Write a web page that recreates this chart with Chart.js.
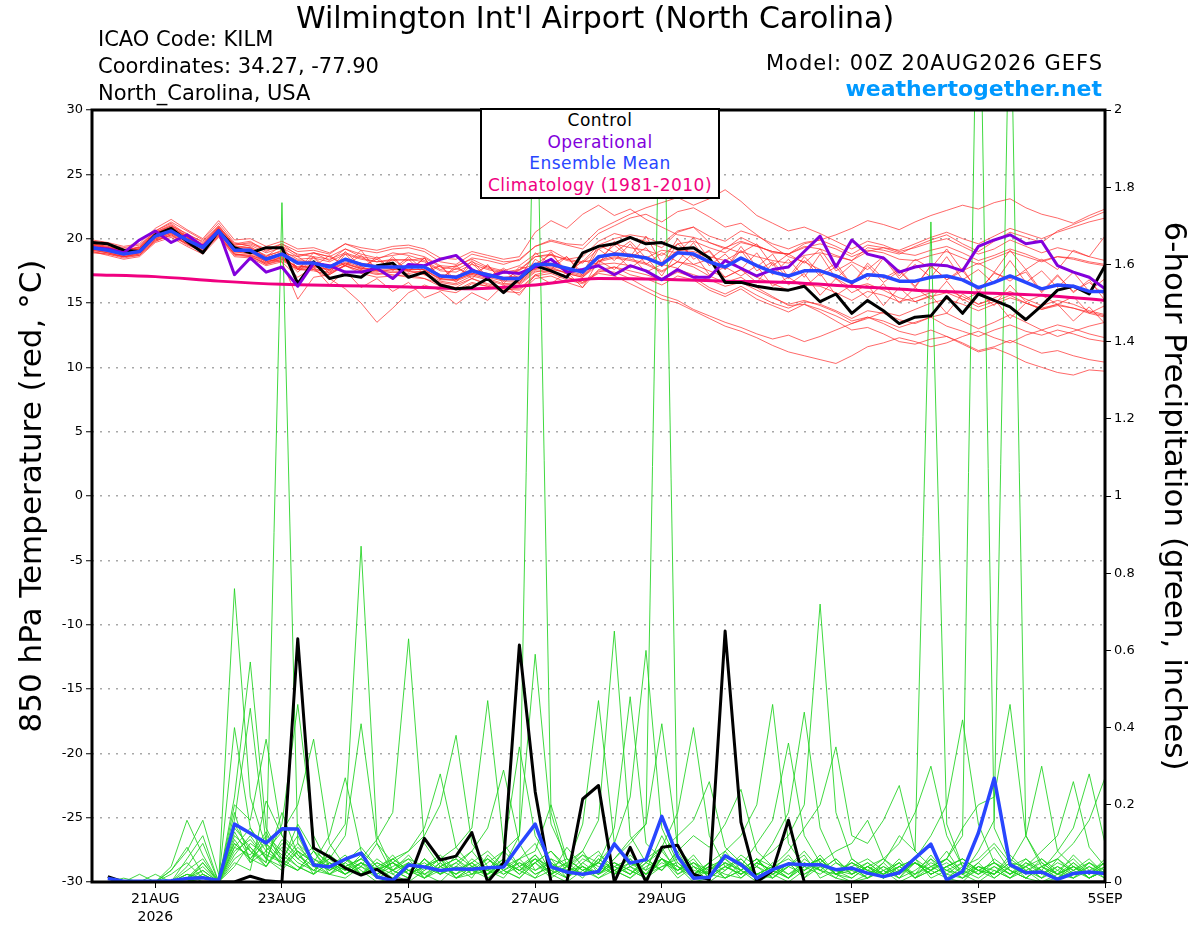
<!DOCTYPE html>
<html>
<head>
<meta charset="utf-8">
<title>Wilmington Int'l Airport - GEFS 850 hPa temperature and precipitation</title>
<script src="https://cdn.jsdelivr.net/npm/chart.js@4.4.1/dist/chart.umd.min.js"></script>
<style>
  body { margin: 0; background: #fff; }
  #wrap { position: relative; width: 1200px; height: 927px; font-family: 'DejaVu Sans', sans-serif; color: #000; }
  #wrap canvas { position: absolute; left: 0; top: 0; }
  .txt { position: absolute; line-height: 1; white-space: nowrap; }
  #legendBox {
    position: absolute; left: 480px; top: 108px; width: 236px; height: 87px;
    border: 2px solid #000; background: #fff; text-align: center;
    font-size: 17px; line-height: 21.7px; letter-spacing: 0.5px;
  }
</style>
</head>
<body>
<div id="wrap">
  <canvas id="meteogram" width="1200" height="927"></canvas>
  <div class="txt" style="left:0;width:1190px;text-align:center;top:3px;font-size:30px">Wilmington Int'l Airport (North Carolina)</div>
  <div class="txt" style="left:98px;top:29px;font-size:21px">ICAO Code: KILM</div>
  <div class="txt" style="left:98px;top:56px;font-size:21px">Coordinates: 34.27, -77.90</div>
  <div class="txt" style="left:98px;top:83px;font-size:21px">North_Carolina, USA</div>
  <div class="txt" style="right:97px;top:53px;font-size:21px;letter-spacing:1px">Model: 00Z 20AUG2026 GEFS</div>
  <div class="txt" style="right:98px;top:78px;font-size:22px;font-weight:bold;color:#0099ff">weathertogether.net</div>
  <div id="legendBox">
    <div style="color:#000">Control</div>
    <div style="color:#8200dc">Operational</div>
    <div style="color:#2846ff">Ensemble Mean</div>
    <div style="color:#f00080">Climatology (1981-2010)</div>
  </div>
</div>
<script>
// x axis: forecast hour from 00Z 20AUG2026
const tickHours = [24, 72, 120, 168, 216, 288, 336, 384];
const tickLabels = [['21AUG', '2026'], '23AUG', '25AUG', '27AUG', '29AUG', '1SEP', '3SEP', '5SEP'];
const hours = Array.from({length: 65}, (_, i) => i * 6);
const precipHours = hours.slice(1);

// 1981-2010 climatology, daily
const climHours = [0, 24, 48, 72, 96, 120, 144, 168, 192, 216, 240, 264, 288, 312, 336, 360, 384];
const climatology = [17.2, 17.05, 16.7, 16.45, 16.35, 16.25, 16.1, 16.4, 16.9, 16.85, 16.7, 16.6, 16.3, 16.0, 15.8, 15.6, 15.2];

// 850 hPa temperature (C), 6-hourly
const controlTemp = [19.7, 19.6, 19.1, 19.0, 20.3, 20.8, 19.8, 18.9, 20.6, 19.3,
  18.9, 19.3, 19.3, 16.5, 18.2, 16.9, 17.2, 17.0, 17.9, 18.1,
  17.0, 17.4, 16.4, 16.1, 16.2, 16.9, 15.8, 16.9, 17.9, 17.5,
  17.0, 18.9, 19.4, 19.6, 20.1, 19.6, 19.7, 19.2, 19.3, 18.5,
  16.6, 16.6, 16.3, 16.1, 16.0, 16.3, 15.1, 15.7, 14.2, 15.2,
  14.4, 13.4, 13.9, 14.0, 15.5, 14.2, 15.7, 15.2, 14.7, 13.7,
  14.8, 16.0, 16.3, 15.7, 17.9];
const operationalTemp = [19.3, 19.2, 18.9, 19.9, 20.6, 19.7, 20.3, 19.4, 20.6, 17.2,
  18.5, 17.4, 17.8, 16.3, 18.1, 17.9, 17.4, 17.4, 17.7, 16.9,
  18.0, 17.9, 18.4, 18.7, 17.6, 17.0, 17.4, 17.3, 17.8, 18.4,
  17.4, 17.6, 17.9, 17.2, 17.9, 17.5, 16.8, 17.6, 17.0, 17.0,
  18.3, 17.7, 17.1, 17.6, 17.8, 19.0, 20.2, 17.8, 19.9, 18.8,
  18.5, 17.4, 17.8, 18.0, 17.9, 17.5, 19.4, 19.9, 20.3, 19.6,
  19.8, 17.9, 17.4, 17.0, 16.1];
const meanTemp = [19.3, 19.1, 18.8, 19.0, 20.2, 20.6, 19.9, 19.3, 20.6, 19.1,
  19.1, 18.4, 18.8, 18.1, 18.1, 17.8, 18.4, 18.0, 17.8, 17.8,
  17.8, 17.8, 17.1, 17.0, 17.5, 17.2, 16.9, 16.9, 18.0, 18.0,
  17.7, 17.4, 18.6, 18.8, 18.7, 18.5, 18.0, 18.9, 18.8, 18.2,
  17.8, 18.5, 17.9, 17.4, 17.1, 17.5, 17.5, 17.1, 16.6, 17.2,
  17.1, 16.7, 16.7, 17.0, 17.1, 16.8, 16.2, 16.6, 17.1, 16.6,
  16.1, 16.4, 16.3, 15.9, 15.9];

// 6-hour precipitation (inches), from 06Z 20AUG
const controlPrecip = [.014, 0, 0, 0, 0, 0, 0, 0,
  0, .015, .003, 0, .63, .088, .065, .036,
  .018, .033, .005, .005, .113, .057, .067, .128,
  0, .05, .614, .234, 0, 0, .215, .25,
  0, .09, 0, .09, .095, .02, .006, .65,
  .155, 0, .03, .16, 0, 0, 0, 0,
  0, 0, 0, 0, 0, 0, 0, 0,
  0, 0, 0, 0, 0, 0, 0, 0];
const meanPrecip = [.009, .002, .002, .002, .003, .009, .011, .004,
  .150, .126, .101, .138, .137, .044, .039, .059,
  .075, .013, .004, .044, .039, .030, .034, .033,
  .037, .039, .096, .150, .039, .026, .020, .027,
  .099, .049, .058, .170, .066, .010, .012, .068,
  .045, .010, .032, .047, .045, .045, .032, .036,
  .023, .014, .024, .062, .098, .005, .027, .127,
  .269, .045, .024, .026, .007, .022, .026, .022];

// ensemble members, temperature
const memberTemp = [
  [19.5,19.3,19.0,19.4,20.6,21.2,20.3,19.8,21.0,19.6,19.8,19.0,19.6,18.7,18.9,18.3,19.2,18.6,18.4,18.9,18.7,18.3,17.6,17.9,18.4,17.8,17.5,17.9,18.8,19.1,18.4,18.6,19.8,20.4,20.1,19.8,19.3,20.5,20.9,19.7,19.2,20.1,19.5,18.9,18.8,19.4,19.2,18.7,18.3,19.3,19.1,18.8,19.4,19.9,20.3,19.6,19.0,19.8,20.5,20.1,19.7,20.6,21.1,21.6,22.1],
  [19.0,18.8,18.5,18.7,19.8,20.3,19.5,19.0,20.2,18.8,18.6,18.0,18.3,17.6,17.5,17.2,17.9,17.3,17.0,17.1,17.2,16.9,16.5,16.2,16.9,16.4,16.1,16.0,17.1,17.3,16.8,16.5,17.4,17.8,17.2,16.9,16.4,17.1,16.8,16.0,15.5,16.1,15.3,14.8,14.3,14.9,14.5,14.0,13.4,13.9,13.6,13.1,13.5,13.9,13.2,12.8,12.4,12.9,13.3,12.8,12.5,12.9,12.6,12.2,12.0],
  [19.6,19.4,19.0,19.2,20.4,20.9,20.2,19.5,20.9,19.4,19.3,18.7,19.0,18.0,17.6,16.9,16.1,15.0,13.5,14.6,15.8,16.4,16.0,15.8,16.5,16.3,16.0,16.4,17.4,17.7,17.3,17.0,18.2,18.5,18.3,18.0,17.4,18.2,18.0,17.5,17.0,17.6,17.0,16.5,16.0,16.4,16.3,15.8,15.2,15.9,15.6,15.1,15.4,15.8,16.0,15.5,14.9,15.4,15.9,15.3,14.8,15.2,14.9,14.4,14.1],
  [19.2,19.0,18.7,19.1,20.3,20.8,20.0,19.4,20.7,19.3,19.5,18.9,19.3,18.6,18.9,18.6,19.2,18.8,18.5,18.7,18.9,18.6,17.9,17.8,18.5,18.3,18.0,18.4,19.4,19.9,19.6,19.5,20.7,21.3,21.9,22.4,22.8,23.2,22.6,23.1,23.8,22.9,21.8,21.2,20.6,20.9,20.4,19.8,19.2,19.8,19.5,19.0,19.3,19.7,20.0,19.4,18.8,19.2,19.9,19.4,18.9,19.3,19.0,18.6,18.3],
  [19.4,19.1,18.9,19.0,20.1,20.5,19.7,19.1,20.4,18.9,18.9,18.2,18.5,17.8,17.9,17.5,18.1,17.6,17.4,17.6,17.5,17.4,16.7,16.5,17.1,16.8,16.4,16.5,17.5,17.4,17.0,16.6,17.3,17.1,16.5,15.9,15.3,15.0,14.4,13.8,13.2,12.8,12.3,11.7,11.2,10.9,10.6,10.3,10.9,11.6,11.9,12.3,12.0,11.6,11.9,12.4,12.8,12.3,11.9,12.5,12.9,12.4,12.8,13.2,13.5],
  [19.1,18.9,18.6,18.9,20.0,20.4,19.8,19.2,20.5,19.0,18.8,18.1,18.6,17.7,17.8,17.6,18.2,17.8,17.5,17.4,17.3,17.5,16.9,16.7,17.2,16.9,16.5,16.6,17.6,17.8,17.3,17.0,18.0,18.1,17.9,17.5,16.9,17.6,17.2,16.8,16.3,16.6,16.0,15.4,14.9,15.2,14.8,14.3,13.6,13.9,13.4,12.8,12.5,12.9,12.4,11.8,11.2,11.5,11.0,10.4,10.0,9.6,9.4,9.8,9.7],
  [19.7,19.5,19.2,19.3,20.5,21.0,20.4,19.7,20.9,19.5,19.6,19.1,19.4,18.8,18.6,18.4,18.9,18.5,18.2,18.4,18.3,18.5,17.8,17.6,18.2,17.7,17.4,17.6,18.6,18.8,18.3,18.1,19.2,19.6,19.3,19.1,18.7,19.6,19.8,19.3,18.9,19.7,19.4,19.0,18.8,19.6,19.9,20.3,20.8,21.4,21.1,20.7,21.3,21.8,22.2,22.6,22.3,22.8,23.1,22.4,21.9,21.6,21.2,21.8,22.3],
  [18.9,18.8,18.6,18.8,19.9,20.2,19.6,19.0,20.3,18.8,18.7,18.3,18.6,17.4,18.5,17.3,18.8,17.6,18.6,17.5,18.4,17.2,17.9,16.6,18.1,16.9,17.6,16.5,18.4,17.6,18.6,17.1,19.2,18.3,19.6,18.0,18.9,18.2,19.7,17.9,18.8,17.6,18.9,17.2,18.4,17.0,18.8,16.9,18.0,16.8,18.5,16.9,18.0,17.0,18.6,16.8,17.6,16.5,18.3,16.6,17.5,16.2,17.4,15.9,16.9],
  [19.8,19.6,19.3,19.5,20.6,21.3,20.6,19.9,21.2,19.7,19.4,18.6,19.5,17.6,18.9,18.6,17.9,19.1,17.5,18.6,17.4,18.5,16.8,17.9,16.9,18.0,16.5,17.8,17.6,19.0,17.2,18.3,18.0,19.8,18.6,20.2,18.1,20.0,18.4,19.1,17.6,19.4,17.8,18.8,17.0,18.6,17.3,18.1,16.4,17.9,16.6,17.5,16.2,17.9,16.8,17.7,15.8,17.4,16.7,17.6,15.9,17.2,15.8,16.8,15.2],
  [19.3,19.0,18.7,18.9,20.0,20.5,19.8,19.1,20.4,19.0,19.0,18.2,18.5,17.7,17.7,17.3,17.9,17.5,17.3,17.2,17.0,16.9,16.3,16.0,16.6,16.3,15.9,15.8,16.9,17.1,16.6,16.2,17.6,17.8,17.5,17.2,16.8,17.4,17.0,16.2,15.7,16.3,15.6,15.0,14.6,15.1,14.9,14.4,13.8,14.4,14.2,13.7,13.4,13.9,14.2,13.6,13.0,13.5,14.1,13.5,12.9,13.3,13.0,12.6,12.3],
  [19.5,19.2,18.9,19.2,20.4,20.8,20.1,19.5,20.8,19.2,19.2,18.6,19.1,18.4,18.5,18.2,18.8,18.4,18.2,18.3,18.4,18.2,17.5,17.4,18.0,17.6,17.3,17.5,18.6,18.7,18.4,18.2,19.5,20.0,20.3,20.1,19.6,20.6,20.9,20.2,19.8,20.6,20.2,19.6,19.2,19.7,19.9,19.4,18.8,19.5,19.3,18.9,18.7,19.1,19.4,18.9,18.3,18.7,19.2,18.8,18.3,18.6,18.4,18.1,17.9],
  [19.0,18.7,18.4,18.6,19.7,20.1,19.4,18.8,20.1,18.6,18.5,17.9,18.2,17.0,17.8,16.4,17.5,16.2,16.9,15.9,16.6,15.4,15.9,14.9,15.8,15.2,16.4,15.6,17.2,16.5,17.4,16.2,18.3,17.6,18.7,17.4,18.0,17.7,18.9,17.2,17.8,17.1,17.9,16.3,17.0,16.2,17.3,15.6,16.4,15.4,16.5,15.0,16.2,15.3,16.7,15.2,15.8,14.8,16.4,15.1,15.6,14.9,15.5,14.2,14.8],
  [19.6,19.3,19.1,19.3,20.5,21.1,20.2,19.6,21.0,19.5,19.7,19.2,19.6,19.0,19.1,18.8,19.6,19.1,18.9,19.2,19.3,19.0,18.2,18.0,18.8,18.5,18.2,18.3,19.4,19.8,19.5,19.2,20.4,21.0,21.6,21.9,21.3,22.1,22.4,21.7,20.9,21.2,20.3,19.4,18.6,18.2,17.6,16.9,16.2,16.5,16.0,15.4,15.1,15.5,15.8,15.3,14.7,15.1,15.6,15.0,14.5,14.9,14.6,14.2,13.9],
  [19.2,18.9,18.6,18.8,19.9,20.4,19.6,19.0,20.3,18.8,18.7,18.0,18.4,17.6,17.6,17.4,17.9,17.5,17.2,17.4,17.5,17.2,16.6,16.4,16.9,16.5,16.2,16.1,17.2,17.5,17.0,16.6,17.5,17.4,16.9,16.2,15.6,15.2,14.5,14.0,13.5,13.1,12.6,12.2,12.5,12.0,12.4,12.9,13.4,13.8,14.3,14.0,14.5,15.0,15.3,14.9,14.4,14.9,15.4,15.0,14.5,14.8,14.6,14.3,14.0],
  [19.4,19.2,18.9,19.1,20.2,20.7,20.0,19.4,20.7,19.2,19.0,18.5,18.9,18.6,17.8,18.7,17.9,18.7,17.6,18.4,17.5,18.5,16.9,17.7,17.2,17.9,16.7,17.6,18.0,18.8,17.5,18.2,18.4,19.5,18.5,19.3,17.8,19.6,18.6,19.0,17.6,19.1,17.5,18.2,16.9,18.3,17.1,17.8,16.4,18.1,16.9,17.6,16.3,17.9,16.8,17.5,16.0,17.3,16.9,17.4,15.8,17.1,15.9,16.6,15.6],
  [19.3,19.1,18.8,19.0,20.1,20.6,19.9,19.3,20.6,19.1,19.2,18.5,18.9,18.3,18.2,17.9,18.4,18.1,17.9,17.9,17.8,17.9,17.2,17.1,17.6,17.3,17.0,17.1,18.1,18.1,17.7,17.5,18.6,18.9,18.8,18.6,18.1,19.1,19.0,18.6,18.3,19.0,18.6,18.3,18.1,18.7,18.9,18.6,18.3,19.0,19.3,19.1,19.6,20.1,20.5,20.0,19.6,20.2,20.8,20.4,20.0,20.5,20.9,21.3,21.6],
  [19.6,19.4,19.1,19.3,20.4,21.0,20.1,19.5,20.8,19.3,19.3,18.4,18.2,15.3,17.0,17.2,18.0,17.7,17.6,17.7,17.6,17.6,16.8,16.8,17.3,17.0,16.7,16.7,17.7,17.6,17.4,17.1,18.2,18.9,17.7,18.6,17.1,19.0,18.0,18.4,17.0,17.6,16.6,18.1,16.4,17.3,15.6,16.9,15.8,16.4,14.8,16.2,15.1,15.6,14.2,15.7,14.9,15.3,13.8,15.0,14.6,14.9,13.6,14.7,13.4],
  [19.9,19.7,19.4,19.6,20.8,21.5,20.7,20.0,21.4,19.9,20.0,19.4,19.8,19.2,19.3,18.9,19.6,19.3,19.1,19.4,19.5,19.2,18.5,18.4,19.0,18.7,18.4,18.6,20.5,21.4,20.8,21.9,22.6,21.8,22.3,21.5,20.9,20.3,20.1,19.7,19.3,19.8,19.4,19.0,18.8,19.3,19.6,19.2,18.6,19.1,18.9,18.4,18.3,18.7,19.0,18.5,18.0,18.5,19.0,18.6,18.2,18.6,18.5,18.2,18.0],
  [19.1,18.9,18.6,18.7,19.8,20.3,19.6,19.0,20.2,18.7,18.6,18.1,18.4,17.8,17.9,17.6,18.1,17.7,17.5,17.6,17.6,17.6,16.9,16.8,17.3,17.1,16.8,16.8,17.8,17.9,17.5,17.2,18.3,18.6,18.4,18.1,17.5,18.2,17.8,17.1,16.6,17.0,16.2,15.5,14.8,14.9,14.3,13.6,12.9,13.1,12.6,12.0,11.8,12.2,12.4,11.9,11.3,11.6,12.1,11.6,11.1,11.3,10.9,10.6,10.4],
  [19.5,19.3,19.0,19.2,20.3,20.9,20.1,19.4,20.8,19.3,19.1,18.5,18.8,17.6,18.6,17.5,19.0,17.8,18.4,17.6,18.6,17.5,17.9,16.8,18.3,17.0,17.7,16.9,18.9,18.0,18.6,17.3,19.5,18.9,19.8,18.5,19.1,18.9,20.1,18.4,19.3,18.9,19.6,17.9,18.8,18.1,19.2,17.5,18.2,17.6,18.6,17.1,18.4,17.7,19.2,17.5,18.1,17.4,19.1,17.6,18.4,17.6,19.1,18.6,20.2]
];

// ensemble members, 6-hour precipitation from 06Z 20AUG
const memberPrecip = [
  [0,0,0,0,0,.02,.01,0, .12,.08,.05,1.76,.10,.04,.02,.06, .03,0,.01,.05,.02,0,.04,.08, .03,.01,.06,.10,.02,0,.03,.05, .02,.07,.03,.12,.04,0,.01,.08, .03,0,.02,.05,.01,.06,.02,0, .01,.03,0,.02,.07,.02,.01,.05, .09,.03,.01,0,.02,.04,.01,.03],
  [0,0,0,0,0,0,.03,0, .76,.22,.09,.05,.03,.08,.02,.01, .04,.10,.02,0,.03,.06,.01,.02, .05,.08,.12,2.3,.18,.04,.02,.06, .03,.01,.05,.09,.02,.04,0,.03, .06,.02,.01,.04,.08,.03,.01,0, .02,.05,.01,.03,.06,.01,0,.04, .02,.07,.03,0,.01,.05,.02,.06],
  [0,0,0,0,0,.01,.04,0, .18,.05,.11,.07,.04,.02,.09,.15, .87,.12,.03,.01,.06,.02,.04,.01, .07,.03,.01,.05,.02,.09,.04,.02, .06,.11,.15,2.4,.09,.03,.02,.05, .01,.04,.02,0,.03,.07,.02,.01, .04,.02,.06,.01,.03,.08,.02,0, .03,.01,.04,.06,.02,.01,.05,.02],
  [0,0,0,0,.02,.05,.01,0, .09,.14,.06,.03,.08,.02,.05,.03, .06,.11,.18,.63,.10,.04,.02,.05, .01,.03,.06,.02,.04,.01,.05,.08, .02,.04,.01,.06,.03,.07,.02,.01, .05,.02,.04,.01,.06,.03,.02,.04, .01,.05,.12,.08,1.71,.15,.04,.02, .06,.03,.01,.04,.02,.07,.03,.01],
  [0,0,0,0,0,0,.01,0, .05,.03,.21,.12,.06,.09,.04,.02, .05,.01,.03,.07,.02,.04,.06,.03, .02,.08,.04,.01,.03,.05,.02,.07, .04,.02,.06,.03,.08,.01,.04,.02, .01,.05,.03,.07,.02,.04,.01,.06, .03,.02,.05,.01,.04,.06,.12,2.6, .14,.05,.02,.04,.01,.03,.06,.02],
  [0,0,0,0,0,.03,.06,0, .15,.08,.04,.10,.06,.03,.02,.05, .09,.04,.01,.03,.05,.02,.07,.04, .03,.06,.02,.05,.01,.04,.08,.02, .05,.03,.01,.06,.04,.02,.05,.01, .03,.06,.02,.04,.07,.01,.03,.05, .02,.04,.01,.06,.03,.05,.02,.08, .16,2.4,.12,.04,.02,.05,.01,.03],
  [0,0,0,0,.04,.16,.07,0, .22,.57,.14,.06,.03,.08,.05,.02, .04,.01,.06,.03,.02,.05,.01,.03, .06,.02,.04,.07,.03,.01,.05,.02, .04,.06,.02,.08,.03,.05,.01,.04, .02,.05,.08,.12,.20,.72,.18,.06, .03,.01,.04,.02,.05,.03,.01,.04, .02,.06,.03,.01,.04,.02,.05,.03],
  [0,0,0,.02,0,0,.02,0, .10,.06,.12,.08,.04,.02,.05,.03, .07,.03,.05,.02,.04,.06,.09,.14, .47,.10,.04,.06,.02,.05,.08,.16, .65,.12,.05,.03,.07,.02,.04,.01, .03,.06,.02,.05,.01,.04,.03,.02, .05,.02,.04,.01,.06,.03,.02,.05, .01,.04,.02,.06,.03,.01,.04,.02],
  [0,0,0,0,0,.02,0,0, .14,.09,.05,.18,.07,.04,.06,.02, .05,.03,.07,.02,.04,.06,.03,.05, .08,.04,.12,.59,.15,.06,.03,.05, .10,.22,.60,.14,.05,.02,.04,.06, .03,.01,.05,.02,.04,.06,.02,.03, .05,.02,.04,.06,.01,.03,.05,.02, .04,.01,.03,.05,.02,.04,.01,.03],
  [0,0,0,0,0,0,.05,0, .07,.12,.06,.15,.46,.12,.04,.07, .02,.05,.03,.01,.06,.02,.04,.03, .01,.05,.03,.07,.02,.04,.01,.06, .03,.05,.02,.06,.04,.01,.05,.08, .12,.20,.46,.10,.04,.02,.05,.03, .01,.04,.02,.05,.03,.06,.02,.04, .03,.01,.05,.02,.04,.01,.03,.05],
  [0,0,0,0,0,0,.02,0, .20,.16,.37,.12,.08,.05,.03,.06, .04,.02,.05,.03,.01,.04,.06,.02, .03,.05,.02,.06,.04,.03,.07,.05, .14,.48,.10,.06,.03,.05,.02,.04, .06,.02,.04,.01,.05,.03,.06,.02, .04,.01,.03,.05,.02,.04,.06,.03, .02,.05,.04,.08,.12,.26,.09,.04],
  [0,0,0,0,0,0,0,0, .08,.11,.06,.04,.09,.05,.02,.04, .06,.03,.05,.08,.12,.20,.38,.10, .04,.02,.05,.03,.06,.01,.04,.02, .05,.03,.01,.04,.06,.02,.05,.03, .07,.04,.10,.18,.44,.14,.05,.02, .04,.06,.02,.05,.03,.01,.04,.06, .10,.05,.12,.30,.08,.04,.02,.05],
  [0,0,0,0,0,.01,.03,0, .16,.45,.10,.06,.12,.04,.07,.03, .05,.02,.04,.06,.01,.03,.05,.02, .06,.03,.01,.05,.08,.03,.04,.02, .06,.10,.15,.41,.09,.04,.02,.05, .03,.06,.01,.04,.02,.05,.03,.01, .04,.02,.05,.01,.03,.06,.14,.20, .22,.46,.12,.05,.02,.04,.01,.03],
  [0,0,0,0,0,0,.01,0, .06,.09,.04,.11,.07,.03,.06,.12, .41,.10,.05,.02,.06,.03,.01,.04, .02,.05,.03,.06,.02,.04,.07,.03, .05,.02,.06,.09,.18,.40,.12,.04, .02,.05,.03,.01,.04,.06,.02,.05, .03,.01,.04,.06,.12,.20,.42,.15, .05,.02,.06,.03,.01,.04,.02,.05],
  [0,0,0,0,.03,.09,.02,0, .11,.05,.08,.13,.20,.37,.10,.04, .02,.06,.03,.05,.01,.04,.02,.06, .03,.08,.35,.12,.05,.02,.04,.01, .03,.06,.02,.04,.05,.01,.03,.06, .02,.04,.01,.05,.03,.06,.02,.04, .01,.03,.05,.02,.04,.06,.03,.01, .04,.02,.05,.03,.08,.14,.28,.10],
  [0,0,0,0,0,.02,.01,0, .09,.07,.13,.05,.03,.06,.04,.02, .05,.03,.06,.08,.14,.28,.09,.04, .02,.05,.03,.01,.06,.04,.02,.05, .03,.01,.04,.06,.02,.05,.03,.07, .04,.10,.16,.36,.12,.05,.02,.04, .06,.03,.01,.05,.02,.04,.06,.03, .05,.02,.04,.01,.06,.10,.16,.27],
  [0,0,.02,0,0,.04,.10,0, .13,.06,.10,.04,.08,.05,.12,.27, .08,.04,.02,.05,.03,.06,.01,.04, .02,.06,.03,.05,.08,.04,.15,.47, .10,.04,.02,.05,.03,.06,.01,.04, .02,.05,.03,.01,.04,.06,.02,.05, .03,.06,.10,.18,.30,.12,.04,.02, .05,.03,.01,.04,.06,.02,.04,.01],
  [0,0,0,0,0,.01,.05,0, .04,.10,.07,.05,.15,.08,.03,.06, .02,.05,.03,.06,.04,.02,.05,.08, .14,.29,.10,.03,.05,.02,.06,.04, .02,.05,.03,.06,.01,.04,.02,.05, .03,.06,.04,.08,.14,.20,.35,.12, .10,.16,.25,.08,.04,.02,.05,.03, .01,.04,.06,.02,.05,.03,.01,.04],
  [0,0,0,0,0,.06,.12,0, .40,.14,.08,.05,.10,.06,.03,.05, .02,.04,.06,.03,.01,.05,.02,.04, .06,.03,.05,.02,.04,.06,.03,.01, .04,.02,.05,.08,.12,.16,.26,.09, .05,.02,.04,.06,.03,.05,.08,.10, .16,.06,.03,.05,.02,.04,.01,.03, .05,.02,.04,.01,.03,.06,.02,.04],
  [0,.01,0,0,.03,.08,.16,.02, .10,.06,.04,.09,.05,.03,.07,.04, .06,.03,.05,.02,.04,.07,.03,.05, .02,.04,.06,.08,.20,.06,.03,.05, .02,.04,.06,.03,.08,.12,.09,.15, .24,.08,.04,.02,.05,.03,.06,.02, .04,.01,.03,.05,.02,.04,.06,.03, .02,.05,.01,.04,.06,.03,.05,.02]
];

const pts = (xs, ys) => ys.map((y, i) => ({x: xs[i], y: y}));

const datasets = [
  {label: 'Ensemble Mean', data: pts(hours, meanTemp), yAxisID: 'yT', borderColor: '#2846ff', borderWidth: 3.5, order: 1},
  {label: 'Operational', data: pts(hours, operationalTemp), yAxisID: 'yT', borderColor: '#8200dc', borderWidth: 3, order: 2},
  {label: 'Control', data: pts(hours, controlTemp), yAxisID: 'yT', borderColor: '#000000', borderWidth: 3, order: 3},
  {label: 'Climatology (1981-2010)', data: pts(climHours, climatology), yAxisID: 'yT', borderColor: '#f00080', borderWidth: 3,
   cubicInterpolationMode: 'monotone', order: 4},
  {label: 'Ensemble Mean precip', data: pts(precipHours, meanPrecip), yAxisID: 'yP', borderColor: '#2846ff', borderWidth: 3.5, order: 5},
  {label: 'Control precip', data: pts(precipHours, controlPrecip), yAxisID: 'yP', borderColor: '#000000', borderWidth: 3, order: 6}
];
memberPrecip.forEach((m, k) => {
  datasets.push({label: 'Member ' + (k + 1) + ' precip', data: pts(precipHours, m), yAxisID: 'yP',
    borderColor: 'rgba(30, 210, 30, 0.85)', borderWidth: 1, order: 7});
});
memberTemp.forEach((m, k) => {
  datasets.push({label: 'Member ' + (k + 1), data: pts(hours, m), yAxisID: 'yT',
    borderColor: 'rgba(255, 40, 40, 0.7)', borderWidth: 1, order: 8});
});

// thick black box round the plot area
const framePlugin = {
  id: 'frame',
  afterDatasetsDraw(chart) {
    const {ctx, chartArea: a} = chart;
    ctx.save();
    ctx.lineWidth = 3;
    ctx.strokeStyle = '#000';
    ctx.strokeRect(a.left, a.top, a.right - a.left, a.bottom - a.top);
    ctx.restore();
  }
};

Chart.defaults.font.family = "'DejaVu Sans', sans-serif";
Chart.defaults.color = '#000';

new Chart(document.getElementById('meteogram'), {
  type: 'line',
  data: {datasets: datasets},
  options: {
    responsive: false,
    animation: false,
    events: [],
    layout: {padding: {top: 110, left: 0, right: 0, bottom: 0}},
    elements: {
      point: {radius: 0},
      line: {tension: 0, borderJoinStyle: 'round', fill: false}
    },
    plugins: {legend: {display: false}, tooltip: {enabled: false}},
    scales: {
      x: {
        type: 'linear', min: 0, max: 384,
        afterBuildTicks: s => { s.ticks = tickHours.map(v => ({value: v})); },
        afterFit: s => { s.height = 45; },
        grid: {drawOnChartArea: false, tickLength: 6, tickColor: '#000', tickWidth: 1},
        border: {display: false},
        ticks: {
          autoSkip: false, maxRotation: 0, padding: 3,
          font: {size: 14, lineHeight: 1.25},
          callback: v => tickLabels[tickHours.indexOf(v)]
        }
      },
      yT: {
        position: 'left', min: -30, max: 30,
        afterFit: s => { s.width = 92; },
        ticks: {stepSize: 5, padding: 3, font: {size: 13}},
        grid: {color: '#a8a8a8', lineWidth: 1.5, tickColor: '#000', tickWidth: 1, tickLength: 6},
        border: {display: false, dash: [2, 6]},
        title: {display: true, text: '850 hPa Temperature (red, °C)', font: {size: 31}, padding: {top: 14, bottom: 0}}
      },
      yP: {
        position: 'right', min: 0, max: 2,
        afterFit: s => { s.width = 95; },
        ticks: {stepSize: 0.2, padding: 3, font: {size: 13}, callback: v => String(+v.toFixed(1))},
        grid: {drawOnChartArea: false, tickColor: '#000', tickWidth: 1, tickLength: 6},
        border: {display: false},
        title: {display: true, text: '6-hour Precipitation (green, inches)', font: {size: 31}, padding: {top: 8, bottom: 0}}
      }
    }
  },
  plugins: [framePlugin]
});
</script>
</body>
</html>
